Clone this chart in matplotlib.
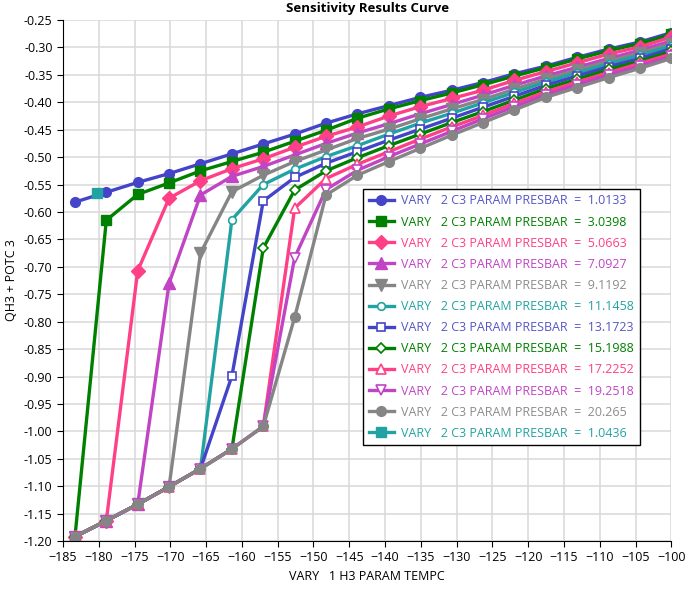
import numpy as np
import matplotlib
matplotlib.use('Agg')
import matplotlib.pyplot as plt

plt.rcParams['font.family'] = ['Open Sans', 'DejaVu Sans']

# temperaturas (eixo x)
temps = [-183.33, -178.95, -174.56, -170.18, -165.79, -161.40, -157.02,
         -152.63, -148.25, -143.86, -139.47, -135.09, -130.70, -126.32,
         -121.93, -117.54, -113.16, -108.77, -104.39, -100.0]

# ramo inferior comum
low = [-1.192, -1.163, -1.133, -1.101, -1.068, -1.032, -0.991]

p1_0133 = [-0.582, -0.564, -0.546, -0.530, -0.512, -0.494, -0.476, -0.458, -0.438, -0.421,
           -0.406, -0.391, -0.378, -0.364, -0.348, -0.334, -0.318, -0.303, -0.290, -0.273]
p3_0398 = low[:1] + [-0.615, -0.568, -0.547, -0.525, -0.508, -0.491, -0.471, -0.451, -0.429,
                     -0.412, -0.397, -0.383, -0.368, -0.352, -0.337, -0.321, -0.306, -0.293, -0.276]
p5_0663 = low[:2] + [-0.707, -0.575, -0.543, -0.521, -0.503, -0.482, -0.462, -0.445,
                     -0.425, -0.408, -0.393, -0.378, -0.360, -0.344, -0.328, -0.312, -0.299, -0.281]
p7_0927 = low[:3] + [-0.730, -0.569, -0.535, -0.517, -0.496, -0.475, -0.456,
                     -0.439, -0.421, -0.404, -0.387, -0.369, -0.352, -0.336, -0.320, -0.305, -0.288]
p9_1192 = low[:4] + [-0.675, -0.563, -0.533, -0.508, -0.487, -0.466,
                     -0.449, -0.430, -0.412, -0.395, -0.376, -0.358, -0.341, -0.325, -0.310, -0.293]
p11_1458 = low[:5] + [-0.614, -0.550, -0.522, -0.499, -0.479,
                      -0.458, -0.438, -0.420, -0.401, -0.382, -0.363, -0.346, -0.330, -0.314, -0.297]
p13_1723 = low[:5] + [-0.899, -0.580, -0.537, -0.511, -0.490,
                      -0.469, -0.449, -0.429, -0.409, -0.389, -0.369, -0.352, -0.335, -0.320, -0.302]
p15_1988 = low[:6] + [-0.666, -0.560, -0.525, -0.501,
                      -0.479, -0.458, -0.437, -0.417, -0.396, -0.375, -0.358, -0.340, -0.325, -0.307]
p17_2252 = low[:7] + [-0.593, -0.539, -0.513,
                      -0.490, -0.467, -0.445, -0.424, -0.402, -0.381, -0.363, -0.346, -0.329, -0.312]
p19_2518 = low[:7] + [-0.683, -0.559, -0.524,
                      -0.499, -0.476, -0.453, -0.430, -0.408, -0.386, -0.368, -0.350, -0.334, -0.316]
p20_265 = low[:7] + [-0.792, -0.569, -0.533,
                     -0.508, -0.484, -0.460, -0.437, -0.414, -0.391, -0.373, -0.355, -0.338, -0.320]
# ponto isolado
base_x = [-180.2]
base_y = [-0.565]

pressures = ['1.0133', '3.0398', '5.0663', '7.0927', '9.1192', '11.1458', '13.1723',
             '15.1988', '17.2252', '19.2518', '20.265', '1.0436']

blue = '#4444C8'
green = '#008000'
pink = '#FF3F86'
purple = '#C044C4'
grey = '#858585'
teal = '#22A3A3'

series = [
    (temps, p1_0133, blue, 'o', True),
    (temps, p3_0398, green, 's', True),
    (temps, p5_0663, pink, 'D', True),
    (temps, p7_0927, purple, '^', True),
    (temps, p9_1192, grey, 'v', True),
    (temps, p11_1458, teal, 'o', False),
    (temps, p13_1723, blue, 's', False),
    (temps, p15_1988, green, 'D', False),
    (temps, p17_2252, pink, '^', False),
    (temps, p19_2518, purple, 'v', False),
    (temps, p20_265, grey, 'o', True),
    (base_x, base_y, teal, 's', True),
]

fig = plt.figure(figsize=(6.85, 5.9), dpi=100)
ax = fig.add_axes([0.092, 0.083, 0.888, 0.883])

for (xs, ys, c, m, filled), p in zip(series, pressures):
    ms = {'o': 7, 's': 7, 'D': 7, '^': 8, 'v': 8}[m]
    if filled:
        ax.plot(xs, ys, color=c, lw=2.4, marker=m, ms=ms, mfc=c, mec=c,
                label='VARY   2 C3 PARAM PRESBAR  =  ' + p)
    else:
        ax.plot(xs, ys, color=c, lw=2.4, marker=m, ms=ms - 1.5, mfc='white', mec=c,
                mew=1.2, label='VARY   2 C3 PARAM PRESBAR  =  ' + p)

ax.set_xlim(-185, -100)
ax.set_ylim(-1.2, -0.25)
ax.set_xticks(np.arange(-185, -99, 5))
ax.set_yticks(np.arange(-1.2, -0.249, 0.05))
ax.yaxis.set_major_formatter(matplotlib.ticker.FormatStrFormatter('%.2f'))
ax.grid(True, color='#d8d8d8', lw=1.1)
ax.set_axisbelow(True)
ax.tick_params(labelsize=9, length=4, color='black')
for s in ['top', 'right']:
    ax.spines[s].set_visible(False)
ax.spines['left'].set_color('black')
ax.spines['bottom'].set_color('black')

ax.set_title('Sensitivity Results Curve', fontsize=9.5, fontweight='bold', pad=6)
ax.set_xlabel('VARY   1 H3 PARAM TEMPC', fontsize=9)
ax.set_ylabel('QH3 + POTC 3', fontsize=9)

leg = ax.legend(loc='upper left', bbox_to_anchor=(0.493, 0.676), fontsize=9,
                frameon=True, fancybox=False, edgecolor='black', framealpha=1,
                handlelength=2.0, labelspacing=0.65, borderpad=0.45, handletextpad=0.6,
                borderaxespad=0)
leg.get_frame().set_linewidth(1.0)
text_colors = ['#5555C8', green, pink, purple, '#8c8c8c', teal, '#5555C8',
               green, pink, purple, '#8c8c8c', teal]
for t, c in zip(leg.get_texts(), text_colors):
    t.set_color(c)

fig.savefig('out.png', dpi=100)
